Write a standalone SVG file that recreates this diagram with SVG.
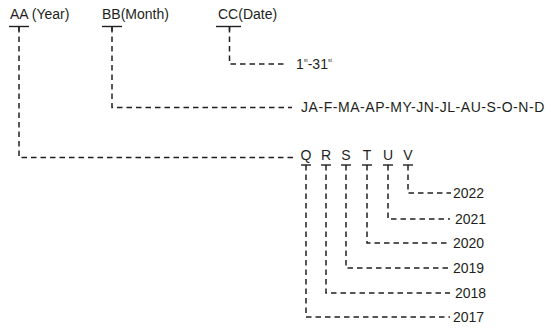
<svg xmlns="http://www.w3.org/2000/svg" width="551" height="328" viewBox="0 0 551 328">
<style>
text{font-family:"Liberation Sans",Arial,sans-serif;font-size:14px;fill:#231f20}
.sup{font-size:5px}
.tick{stroke:#231f20;stroke-width:1.4;fill:none}
.dash{stroke:#231f20;stroke-width:1.5;fill:none;stroke-dasharray:5.5,4}
</style>
<rect width="551" height="328" fill="#fff"/>
<g id="AA"><text x="10" y="19">AA (Year)</text><line class="tick" x1="9" y1="26.5" x2="29" y2="26.5"/><line class="tick" x1="19" y1="26.5" x2="19" y2="31"/></g>
<g id="BB"><text x="102" y="19">BB(Month)</text><line class="tick" x1="102" y1="26.5" x2="122" y2="26.5"/><line class="tick" x1="112" y1="26.5" x2="112" y2="31"/></g>
<g id="CC"><text x="218" y="19">CC(Date)</text><line class="tick" x1="216" y1="26.5" x2="241" y2="26.5"/><line class="tick" x1="229.5" y1="26.5" x2="229.5" y2="31"/></g>
<g id="dates"><text x="296" y="69">1<tspan class="sup" dy="-7">st</tspan><tspan dy="7">-31</tspan><tspan class="sup" dy="-7">st</tspan></text></g>
<g id="months"><text x="301" y="112" letter-spacing="0.55">JA-F-MA-AP-MY-JN-JL-AU-S-O-N-D</text></g>
<g id="letters" text-anchor="middle">
<g id="Q"><text x="306" y="160">Q</text><line class="tick" x1="301" y1="165" x2="311" y2="165"/></g>
<g id="R"><text x="326" y="160">R</text><line class="tick" x1="321" y1="165" x2="331" y2="165"/></g>
<g id="S"><text x="346" y="160">S</text><line class="tick" x1="341" y1="165" x2="351" y2="165"/></g>
<g id="T"><text x="367" y="160">T</text><line class="tick" x1="362" y1="165" x2="372" y2="165"/></g>
<g id="U"><text x="388" y="160">U</text><line class="tick" x1="383" y1="165" x2="393" y2="165"/></g>
<g id="V"><text x="408" y="160">V</text><line class="tick" x1="403" y1="165" x2="413" y2="165"/></g>
</g>
<g id="years">
<text x="453" y="198">2022</text>
<text x="455" y="224">2021</text>
<text x="453" y="248">2020</text>
<text x="453" y="273">2019</text>
<text x="455" y="298">2018</text>
<text x="453" y="322">2017</text>
</g>
<g id="connectors">
<path class="dash" d="M19 27 V157.5 H294"/>
<path class="dash" d="M112 27 V107.5 H292"/>
<path class="dash" d="M229.5 27 V64 H287"/>
<path class="dash" d="M306 165 V317 H450"/>
<path class="dash" d="M326 165 V293 H450"/>
<path class="dash" d="M346 165 V268 H450"/>
<path class="dash" d="M367 165 V243 H450"/>
<path class="dash" d="M388 165 V219 H450"/>
<path class="dash" d="M408 165 V193 H451"/>
</g>
</svg>
